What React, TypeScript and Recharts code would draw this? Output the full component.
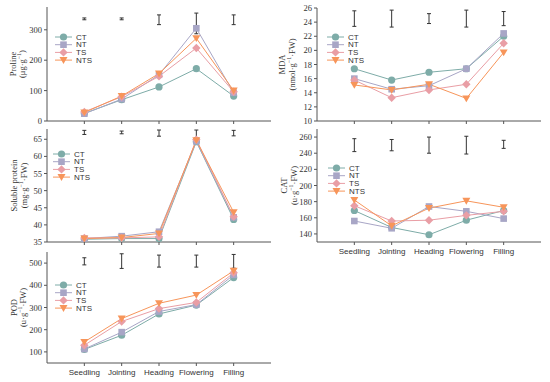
// Physiological indices of wheat across growth stages
import React from 'react'
import { LineChart, Line, XAxis, YAxis, ErrorBar, Legend } from 'recharts'

const stages = ['Seedling', 'Jointing', 'Heading', 'Flowering', 'Filling']
const treatments = ['CT', 'NT', 'TS', 'NTS']

const colors: Record<string, string> = { CT: '#7eaca8', NT: '#a8a6c6', TS: '#e99ea5', NTS: '#f7955a' }
const shapes: Record<string, string> = { CT: 'circle', NT: 'square', TS: 'diamond', NTS: 'triangle' }

const sansNarrow = 'Liberation Sans Narrow, Arial Narrow, Liberation Sans, sans-serif'
const serifFont = 'Liberation Serif, Times New Roman, serif'

// Proline (μg·g-1)
const prolineCT = [25, 70, 112, 172, 82]
const prolineNT = [24, 72, 152, 305, 93]
const prolineTS = [30, 80, 147, 240, 96]
const prolineNTS = [28, 82, 156, 272, 100]
const prolineErrMid = [336, 336, 333, 321, 333]
const prolineErr = [3, 3, 16, 34, 16]
const prolineTicks = [0, 100, 200, 300]

// Soluble protein (mg·g-1·FW)
const proteinCT = [35.8, 36.0, 36.0, 64.3, 41.6]
const proteinNT = [36.0, 36.7, 38.0, 64.4, 42.2]
const proteinTS = [36.2, 36.2, 36.5, 64.9, 42.4]
const proteinNTS = [36.0, 36.3, 37.5, 64.7, 43.7]
const proteinErrMid = [67, 67, 66.8, 66.6, 66.8]
const proteinErr = [0.6, 0.4, 0.9, 1.1, 0.8]
const proteinTicks = [35, 40, 45, 50, 55, 60, 65]

// POD (u·g-1·FW)
const podCT = [111, 175, 271, 311, 435]
const podNT = [113, 189, 282, 313, 447]
const podTS = [130, 237, 295, 323, 456]
const podNTS = [145, 250, 319, 356, 465]
const podErrMid = [508, 509, 509, 509, 508]
const podErr = [16, 33, 27, 27, 31]
const podTicks = [100, 200, 300, 400, 500]

// MDA (nmol·g-1·FW)
const mdaCT = [17.4, 15.8, 16.9, 17.4, 22.0]
const mdaNT = [16.0, 14.5, 15.0, 17.4, 22.4]
const mdaTS = [15.8, 13.3, 14.4, 15.2, 21.0]
const mdaNTS = [15.1, 14.4, 15.2, 13.2, 19.7]
const mdaErrMid = [24.5, 24.5, 24.5, 24.5, 24.5]
const mdaErr = [1.1, 1.2, 0.7, 1.2, 1.0]
const mdaTicks = [10, 12, 14, 16, 18, 20, 22, 24, 26]

// CAT (u·g-1·FW)
const catCT = [169, 148, 139, 157, 169]
const catNT = [156, 147, 174, 168, 159]
const catTS = [175, 156, 157, 163, 168]
const catNTS = [182, 150, 172, 181, 173]
const catErrMid = [250, 250, 250, 250, 251]
const catErr = [8, 7, 10, 11, 5]
const catTicks = [140, 160, 180, 200, 220, 240, 260]

function buildRows(series: number[][], mid: number[], err: number[]) {
    return stages.map((s, i) => {
        const row: any = { x: i + 1, stage: s, mid: mid[i], err: err[i] }
        treatments.forEach((t, j) => { row[t] = series[j][i] })
        return row
    })
}

function Marker({ shape, cx, cy, color }: { shape: string; cx: number; cy: number; color: string }) {
    if (shape === 'circle') return <circle cx={cx} cy={cy} r={3.6} fill={color} />
    if (shape === 'square') return <rect x={cx - 3.3} y={cy - 3.3} width={6.6} height={6.6} fill={color} />
    if (shape === 'diamond')
        return <path d={`M${cx},${cy - 4.2}L${cx + 4.2},${cy}L${cx},${cy + 4.2}L${cx - 4.2},${cy}Z`} fill={color} />
    return <path d={`M${cx - 4},${cy - 3}L${cx + 4},${cy - 3}L${cx},${cy + 3.8}Z`} fill={color} />
}

function LegendBox() {
    return (
        <svg width={50} height={34} style={{ display: 'block' }}>
            {treatments.map((t, i) => {
                const y = 4 + i * 7.7
                return (
                    <g key={t}>
                        <line x1={0} x2={17} y1={y} y2={y} stroke={colors[t]} strokeWidth={1} />
                        <Marker shape={shapes[t]} cx={8.5} cy={y} color={colors[t]} />
                        <text x={21} y={y} dominantBaseline="central" fontSize={8} fill="#333"
                            fontFamily={sansNarrow}>{t}</text>
                    </g>
                )
            })}
        </svg>
    )
}

function AxisTitle({ name, unitA, unitB, x1, x2, cy }: any) {
    const font = { fontFamily: serifFont, fontSize: 8.5, fill: '#333' }
    return (
        <g>
            <text x={x1} y={cy} transform={`rotate(-90, ${x1}, ${cy})`} textAnchor="middle"
                dominantBaseline="central" {...font}>{name}</text>
            <text x={x2} y={cy} transform={`rotate(-90, ${x2}, ${cy})`} textAnchor="middle"
                dominantBaseline="central" {...font}>
                {unitA}<tspan dy={-3.5} fontSize={6}>−1</tspan><tspan dy={3.5}>{unitB}</tspan>
            </text>
        </g>
    )
}

function Panel(p: any) {
    const [x0, y0, x1, y1] = p.plot
    const top = y0 - 8
    const xh = p.showX ? 22 : 8
    const width = x1 - p.chartLeft + 9
    const height = y1 - top + xh
    const cy = (y0 + y1) / 2 - top
    const axisColor = '#555'
    const serif = { fill: '#333', fontSize: 8.5, fontFamily: serifFont }
    return (
        <div style={{ position: 'absolute', left: p.chartLeft, top }}>
            <LineChart width={width} height={height} data={p.rows}
                margin={{ top: 8, right: 9, bottom: 0, left: 0 }}>
                <XAxis dataKey="x" type="number" domain={[0, 6]} ticks={[1, 2, 3, 4, 5]} interval={0}
                    tickFormatter={(v: number) => (p.showX ? stages[v - 1] : '')}
                    height={xh} tickSize={3} tickMargin={3} stroke={axisColor}
                    tick={{ fill: '#333', fontSize: 8, fontFamily: sansNarrow }} />
                <XAxis xAxisId="top" orientation="top" type="number" domain={[0, 6]}
                    tick={false} tickLine={false} height={0} stroke={axisColor} />
                <YAxis type="number" domain={p.domain} ticks={p.ticks} interval={0} width={x0 - p.chartLeft}
                    tickSize={3} tickMargin={2} stroke={axisColor} tick={serif} allowDataOverflow
                    label={<AxisTitle name={p.name} unitA={p.unitA} unitB={p.unitB}
                        x1={p.labelX[0] - p.chartLeft} x2={p.labelX[1] - p.chartLeft} cy={cy} />} />
                <YAxis yAxisId="right" orientation="right" type="number" domain={p.domain}
                    tick={false} tickLine={false} width={0} stroke={axisColor} />
                <Legend layout="vertical" align="center" verticalAlign="middle"
                    content={() => <LegendBox />}
                    wrapperStyle={{ left: p.legendAt[0] - p.chartLeft, top: p.legendAt[1] - top - 4, width: 50, height: 34 }} />
                <Line dataKey="mid" stroke="none" dot={false} activeDot={false} legendType="none"
                    isAnimationActive={false}>
                    <ErrorBar dataKey="err" width={2} stroke="#333" strokeWidth={1} />
                </Line>
                {treatments.map((t) => (
                    <Line key={t} dataKey={t} stroke={colors[t]} strokeWidth={1} isAnimationActive={false}
                        activeDot={false}
                        dot={(d: any) => <Marker key={`${t}-${d.index}`} shape={shapes[t]} cx={d.cx} cy={d.cy} color={colors[t]} />} />
                ))}
            </LineChart>
        </div>
    )
}

export default function App() {
    return (
        <div style={{ position: 'absolute', left: 0, top: 0, width: 550, height: 382, background: '#fff' }}>
            <Panel rows={buildRows([prolineCT, prolineNT, prolineTS, prolineNTS], prolineErrMid, prolineErr)}
                plot={[47, 7, 271, 121]} chartLeft={0} domain={[0, 375]} ticks={prolineTicks}
                name="Proline" unitA="(μg·g" unitB=")" labelX={[13, 22]} showX={false} legendAt={[55, 37.3]} />
            <Panel rows={buildRows([proteinCT, proteinNT, proteinTS, proteinNTS], proteinErrMid, proteinErr)}
                plot={[47, 129, 271, 242]} chartLeft={0} domain={[35, 68]} ticks={proteinTicks}
                name="Soluble protein" unitA="(mg·g" unitB="·FW)" labelX={[14, 24]} showX={false} legendAt={[53, 154.3]} />
            <Panel rows={buildRows([podCT, podNT, podTS, podNTS], podErrMid, podErr)}
                plot={[47, 252, 271, 363]} chartLeft={0} domain={[50, 550]} ticks={podTicks}
                name="POD" unitA="(u·g" unitB="·FW)" labelX={[14, 23]} showX={true} legendAt={[55, 285]} />
            <Panel rows={buildRows([mdaCT, mdaNT, mdaTS, mdaNTS], mdaErrMid, mdaErr)}
                plot={[317, 8, 541, 121]} chartLeft={268} domain={[10, 26]} ticks={mdaTicks}
                name="MDA" unitA="(nmol·g" unitB="·FW)" labelX={[282, 292]} showX={false} legendAt={[327, 37.3]} />
            <Panel rows={buildRows([catCT, catNT, catTS, catNTS], catErrMid, catErr)}
                plot={[317, 129, 541, 242]} chartLeft={268} domain={[130, 270]} ticks={catTicks}
                name="CAT" unitA="(u·g" unitB="·FW)" labelX={[284, 294]} showX={true} legendAt={[328, 167.7]} />
        </div>
    )
}
